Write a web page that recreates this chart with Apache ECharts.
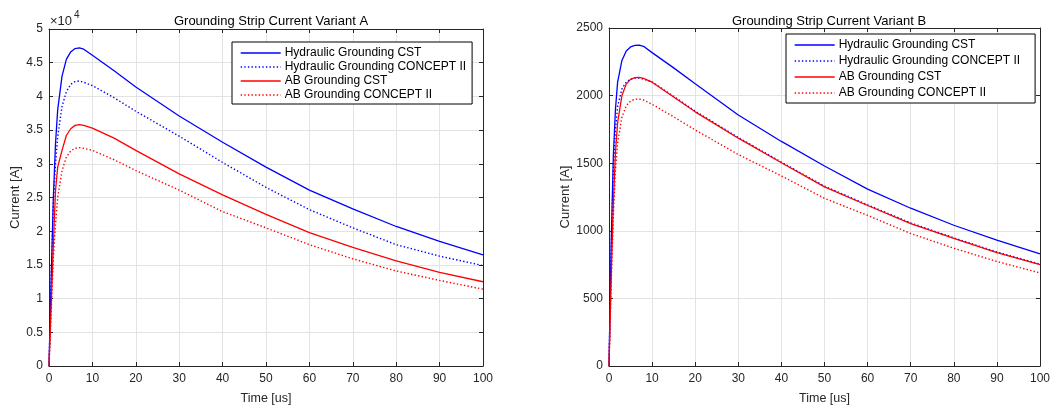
<!DOCTYPE html>
<html>
<head>
<meta charset="utf-8" />
<title>Grounding Strip Current</title>
<script src="https://cdn.jsdelivr.net/npm/echarts@6/dist/echarts.min.js"></script>
<style>
  html, body { margin: 0; padding: 0; background: #fff; }
  #main { width: 1055px; height: 410px; }
</style>
</head>
<body>
<div id="main"></div>
<script>
// time axis (us)
var times = [0, 0.5, 1, 1.5, 2, 3, 4, 5, 6, 7, 8, 10, 15, 20, 30, 40, 50, 60, 70, 80, 90, 100];

// Variant A, current in A
var hydCstA = [0, 13000, 25000, 33000, 38000, 43000, 45500, 46600, 47100, 47200, 47000, 46100, 43800, 41400, 37100, 33200, 29500, 26100, 23300, 20700, 18500, 16500];
var hydConA = [0, 13000, 24000, 30000, 34000, 38500, 40700, 41800, 42200, 42300, 42100, 41600, 39800, 37800, 34100, 30200, 26500, 23200, 20500, 18000, 16300, 14900];
var abCstA  = [0, 9000, 18000, 26000, 29500, 32000, 34200, 35200, 35700, 35800, 35700, 35300, 33800, 32000, 28500, 25400, 22500, 19800, 17600, 15600, 13900, 12500];
var abConA  = [0, 8000, 16000, 21000, 25000, 29000, 31000, 31900, 32300, 32400, 32300, 32000, 30600, 29000, 26100, 22900, 20500, 18000, 15900, 14100, 12700, 11400];

// Variant B, current in A
var hydCstB = [0, 900, 1550, 1900, 2100, 2260, 2330, 2360, 2372, 2374, 2365, 2318, 2205, 2087, 1856, 1661, 1479, 1308, 1167, 1041, 931, 829];
var hydConB = [0, 850, 1450, 1750, 1920, 2050, 2100, 2122, 2130, 2130, 2122, 2100, 1995, 1885, 1690, 1508, 1330, 1192, 1058, 948, 843, 754];
var abCstB  = [0, 650, 1200, 1580, 1800, 2000, 2085, 2120, 2133, 2135, 2128, 2099, 1990, 1880, 1685, 1503, 1325, 1187, 1053, 944, 839, 749];
var abConB  = [0, 600, 1100, 1450, 1650, 1840, 1925, 1960, 1973, 1975, 1968, 1936, 1843, 1746, 1564, 1406, 1240, 1114, 980, 871, 773, 688];

var names = ['Hydraulic Grounding CST', 'Hydraulic Grounding CONCEPT II', 'AB Grounding CST', 'AB Grounding CONCEPT II'];

var FONT = '"Liberation Sans", Arial, sans-serif';
var AX = '#262626';

function pairs(vals) {
    var out = [];
    for (var i = 0; i < times.length; i++) out.push([times[i], vals[i]]);
    return out;
}

function mkSeries(name, vals, color, dotted, idx) {
    return {
        name: name,
        type: 'line',
        xAxisIndex: idx,
        yAxisIndex: idx,
        data: pairs(vals),
        symbol: 'none',
        smooth: false,
        lineStyle: { color: color, width: dotted ? 1.4 : 1.3, type: dotted ? [1.4, 2.2] : 'solid' },
        itemStyle: { color: color }
    };
}

function mainX(grid) {
    return {
        type: 'value', gridIndex: grid, min: 0, max: 100, interval: 10,
        name: 'Time [us]', nameLocation: 'middle', nameGap: 26,
        nameTextStyle: { color: AX, fontSize: 12.5, fontFamily: FONT },
        axisLine: { show: true, onZero: false, lineStyle: { color: AX, width: 1 } },
        axisTick: { show: true, inside: true, length: 4, lineStyle: { color: AX } },
        axisLabel: { color: AX, fontSize: 12, fontFamily: FONT, margin: 7, showMinLabel: true, showMaxLabel: true },
        splitLine: { show: true, lineStyle: { color: '#e3e3e3', width: 1 } }
    };
}
function boxX(grid) {
    return {
        type: 'value', gridIndex: grid, position: 'top', min: 0, max: 100, interval: 10,
        axisLine: { show: true, onZero: false, lineStyle: { color: AX, width: 1 } },
        axisTick: { show: true, inside: true, length: 4, lineStyle: { color: AX } },
        axisLabel: { show: false }, splitLine: { show: false }
    };
}
function mainY(grid, max, interval, fmt, gap) {
    return {
        type: 'value', gridIndex: grid, min: 0, max: max, interval: interval,
        name: 'Current [A]', nameLocation: 'middle', nameGap: gap, nameRotate: 90,
        nameTextStyle: { color: AX, fontSize: 13, fontFamily: FONT },
        axisLine: { show: true, onZero: false, lineStyle: { color: AX, width: 1 } },
        axisTick: { show: true, inside: true, length: 4, lineStyle: { color: AX } },
        axisLabel: { color: AX, fontSize: 12, fontFamily: FONT, margin: 6, formatter: fmt },
        splitLine: { show: true, lineStyle: { color: '#e3e3e3', width: 1 } }
    };
}
function boxY(grid, max, interval) {
    return {
        type: 'value', gridIndex: grid, position: 'right', min: 0, max: max, interval: interval,
        axisLine: { show: true, onZero: false, lineStyle: { color: AX, width: 1 } },
        axisTick: { show: true, inside: true, length: 4, lineStyle: { color: AX } },
        axisLabel: { show: false }, splitLine: { show: false }
    };
}

function mkLegend(left, top, gap, pad) {
    return {
        orient: 'vertical', left: left, top: top,
        data: names,
        itemWidth: 40, itemHeight: 14, itemGap: gap,
        padding: pad,
        backgroundColor: '#fff', borderColor: '#000', borderWidth: 1, borderRadius: 0,
        itemStyle: { color: 'rgba(0,0,0,0)', borderWidth: 0, opacity: 0 },
        lineStyle: { width: 1.4 },
        textStyle: { color: '#000', fontSize: 12, fontFamily: FONT, padding: [0, 0, 0, -1] },
        selectedMode: false
    };
}

var chart = echarts.init(document.getElementById('main'), null, { renderer: 'canvas' });
chart.setOption({
    animation: false,
    backgroundColor: '#fff',
    textStyle: { fontFamily: FONT },
    title: [
        { text: 'Grounding Strip Current Variant A', left: 266, top: 10, textAlign: 'center',
          textStyle: { fontSize: 13, fontWeight: 'normal', color: '#000', fontFamily: FONT } },
        { text: 'Grounding Strip Current Variant B', left: 824, top: 10, textAlign: 'center',
          textStyle: { fontSize: 13, fontWeight: 'normal', color: '#000', fontFamily: FONT } }
    ],
    graphic: [
        { type: 'text', left: 50, top: 15, style: { text: '\u00d710', fontSize: 13, fontFamily: FONT, fill: AX } },
        { type: 'text', left: 74, top: 10, style: { text: '4', fontSize: 10, fontFamily: FONT, fill: AX } }
    ],
    legend: [
        mkLegend(232, 42, 2, [5, 6, 3, 8]),
        mkLegend(786, 34, 4, [5, 15, 4, 8])
    ],
    grid: [
        { left: 49, top: 29, width: 434, height: 341, containLabel: false },
        { left: 609, top: 28, width: 431, height: 342, containLabel: false }
    ],
    xAxis: [mainX(0), boxX(0), mainX(1), boxX(1)],
    yAxis: [
        mainY(0, 50000, 5000, function (v) { return String(v / 10000); }, 25),
        boxY(0, 50000, 5000),
        mainY(1, 2500, 500, function (v) { return String(v); }, 34),
        boxY(1, 2500, 500)
    ],
    series: [
        mkSeries(names[0], hydCstA, '#0000ff', false, 0),
        mkSeries(names[1], hydConA, '#0000ff', true, 0),
        mkSeries(names[2], abCstA, '#ff0000', false, 0),
        mkSeries(names[3], abConA, '#ff0000', true, 0),
        mkSeries(names[0], hydCstB, '#0000ff', false, 2),
        mkSeries(names[1], hydConB, '#0000ff', true, 2),
        mkSeries(names[2], abCstB, '#ff0000', false, 2),
        mkSeries(names[3], abConB, '#ff0000', true, 2)
    ]
});
</script>
</body>
</html>
